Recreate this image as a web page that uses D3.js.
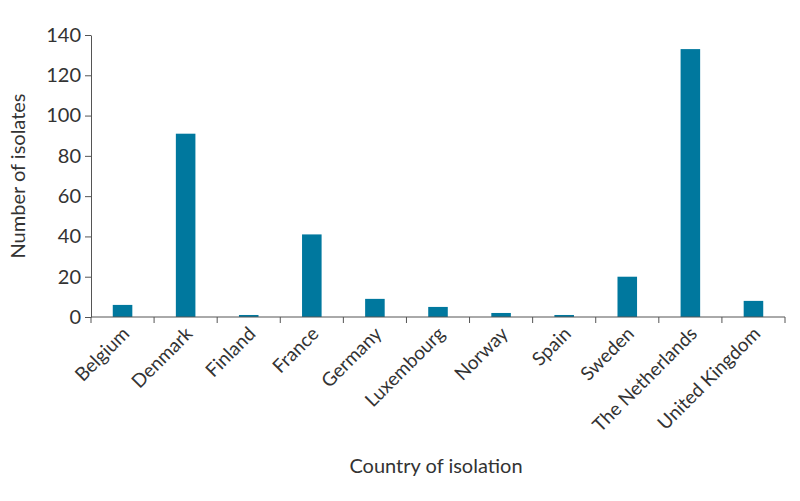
<!DOCTYPE html>
<html>
<head>
<meta charset="utf-8">
<script src="https://cdn.jsdelivr.net/npm/d3@7"></script>
<style>
  body { margin: 0; background: #fff; }
  text { font-family: Lato, "Open Sans", sans-serif; fill: #333; }
</style>
</head>
<body>
<svg id="chart" width="800" height="501"></svg>
<script>
// Data
const countries = ['Belgium', 'Denmark', 'Finland', 'France', 'Germany', 'Luxembourg',
  'Norway', 'Spain', 'Sweden', 'The Netherlands', 'United Kingdom'];
const isolates = [6, 91, 1, 41, 9, 5, 2, 1, 20, 133, 8];
const yTicks = [0, 20, 40, 60, 80, 100, 120, 140];

const width = 800;
const height = 501;
const margin = { top: 35, right: 15, bottom: 184, left: 91 };

const svg = d3.select('#chart');

const x = d3.scaleBand()
  .domain(countries)
  .range([margin.left, width - margin.right]);

const y = d3.scaleLinear()
  .domain([0, 140])
  .range([height - margin.bottom, margin.top]);

const barWidth = x.bandwidth() * 0.31;

// Bars
svg.append('g')
  .attr('fill', '#00789e')
  .selectAll('rect')
  .data(countries)
  .join('rect')
  .attr('x', d => x(d) + (x.bandwidth() - barWidth) / 2)
  .attr('y', (d, i) => y(isolates[i]))
  .attr('width', barWidth)
  .attr('height', (d, i) => y(0) - y(isolates[i]));

// Y axis
const yAxis = svg.append('g')
  .attr('transform', `translate(${margin.left},0)`)
  .call(d3.axisLeft(y).tickValues(yTicks).tickSize(6).tickPadding(4).tickSizeOuter(0));
yAxis.selectAll('path, line').attr('stroke', '#555');
yAxis.selectAll('text').style('font-size', '20px');

// X axis: ticks at band boundaries
const xAxis = svg.append('g')
  .attr('transform', `translate(0,${y(0)})`);
xAxis.append('line')
  .attr('x1', margin.left).attr('x2', width - margin.right)
  .attr('stroke', '#555');
const bounds = countries.map(d => x(d)).concat([x.range()[1]]);
xAxis.selectAll('line.tick')
  .data(bounds)
  .join('line')
  .attr('class', 'tick')
  .attr('x1', d => d).attr('x2', d => d)
  .attr('y1', 0).attr('y2', 6)
  .attr('stroke', '#555');
xAxis.selectAll('text')
  .data(countries)
  .join('text')
  .attr('transform', d => `translate(${x(d) + x.bandwidth() / 2 + 8},${18}) rotate(-45)`)
  .attr('text-anchor', 'end')
  .style('font-size', '19px')
  .text(d => d);

// Axis titles
svg.append('text')
  .attr('transform', `translate(25,${(margin.top + y(0)) / 2}) rotate(-90)`)
  .attr('text-anchor', 'middle')
  .style('font-size', '20px')
  .text('Number of isolates');

svg.append('text')
  .attr('x', 436)
  .attr('y', 473)
  .attr('text-anchor', 'middle')
  .style('font-size', '20px')
  .text('Country of isolation');
</script>
</body>
</html>
